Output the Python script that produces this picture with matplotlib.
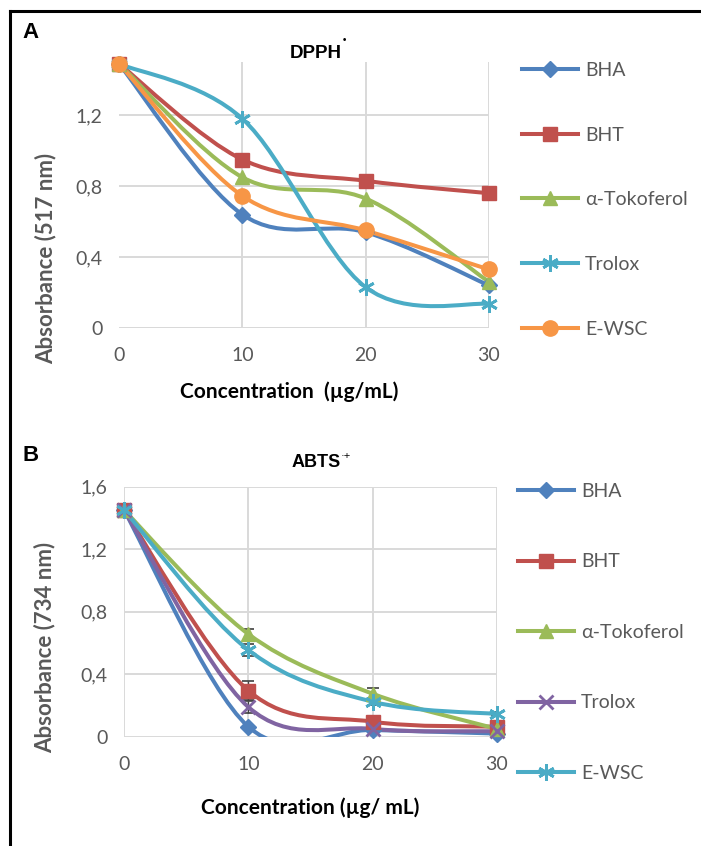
import matplotlib
matplotlib.use('Agg')
import matplotlib.pyplot as plt
import numpy as np
from matplotlib.path import Path
from matplotlib.patches import PathPatch
from matplotlib.lines import Line2D

plt.rcParams['font.family'] = ['Lato', 'DejaVu Sans']

#%% Data

conc = [0, 10, 20, 30]
x_ticks = [0, 10, 20, 30]

# A: DPPH
dpph_labels = ['BHA', 'BHT', 'α-Tokoferol', 'Trolox', 'E-WSC']
dpph_bha = [1.49, 0.64, 0.54, 0.24]
dpph_bht = [1.49, 0.95, 0.83, 0.76]
dpph_toc = [1.49, 0.85, 0.73, 0.26]
dpph_trolox = [1.49, 1.18, 0.23, 0.135]
dpph_ewsc = [1.49, 0.745, 0.55, 0.33]
dpph_yticks = [0, 0.4, 0.8, 1.2]
dpph_yticklabels = ['0', '0,4', '0,8', '1,2']

# B: ABTS
abts_labels = ['BHA', 'BHT', 'α-Tokoferol', 'Trolox', 'E-WSC']
abts_bha = [1.45, 0.064, 0.043, 0.02]
abts_bht = [1.45, 0.295, 0.096, 0.064]
abts_toc = [1.45, 0.657, 0.275, 0.05]
abts_trolox = [1.45, 0.19, 0.05, 0.035]
abts_ewsc = [1.45, 0.555, 0.224, 0.145]
abts_bht_err = [0, 0.063, 0.02, 0.01]
abts_toc_err = [0, 0.035, 0.035, 0.01]
abts_trolox_err = [0, 0.04, 0.01, 0.01]
abts_ewsc_err = [0, 0.037, 0.02, 0.01]
abts_yticks = [0, 0.4, 0.8, 1.2, 1.6]
abts_yticklabels = ['0', '0,4', '0,8', '1,2', '1,6']

#%% Styles

BLUE = '#4F81BD'
RED = '#C0504D'
GREEN = '#9BBB59'
PURPLE = '#8064A2'
AQUA = '#4BACC6'
ORANGE = '#F79646'
GRAY = '#595959'
GRID = '#D9D9D9'
STAR = (6, 2, 0)

marker_sizes = {'D': 8, 's': 10, '^': 10, STAR: 12, 'o': 11, 'x': 10}


def smooth_path(x, y):
    # Excel style smoothed line: cubic bezier, catmull-rom tangents
    pts = np.column_stack([x, y]).astype(float)
    ext = np.vstack([pts[0], pts, pts[-1]])
    verts = [pts[0]]
    codes = [Path.MOVETO]
    for i in range(1, len(ext) - 2):
        c1 = ext[i] + (ext[i + 1] - ext[i - 1]) / 6
        c2 = ext[i + 1] - (ext[i + 2] - ext[i]) / 6
        verts += [c1, c2, ext[i + 1]]
        codes += [Path.CURVE4] * 3
    return Path(verts, codes)


def draw_series(ax, x, y, color, marker, yerr=None):
    patch = PathPatch(smooth_path(x, y), facecolor='none', edgecolor=color,
                      lw=2.9, capstyle='round', joinstyle='round', zorder=3)
    ax.add_patch(patch)
    if yerr is not None:
        ax.errorbar(x, y, yerr=yerr, fmt='none', ecolor='#404040', elinewidth=1,
                    capsize=4, capthick=1.2, zorder=2)
    mew = 2 if marker in ('x', STAR) else 1
    ax.plot(x, y, linestyle='none', marker=marker, ms=marker_sizes[marker],
            color=color, mec=color, mew=mew, zorder=4, clip_on=False)
    return Line2D([], [], color=color, lw=2.9, marker=marker,
                  ms=marker_sizes[marker], mec=color, mew=mew)


def style_axes(ax, ymax, yticks, yticklabels):
    ax.set_xlim(0, 30)
    ax.set_ylim(0, ymax)
    ax.set_xticks(x_ticks)
    ax.set_xticklabels([str(t) for t in x_ticks])
    ax.set_yticks(yticks)
    ax.set_yticklabels(yticklabels)
    for s in ax.spines.values():
        s.set_visible(False)
    ax.grid(True, color=GRID, lw=1.4)
    ax.set_axisbelow(True)
    ax.tick_params(length=0, labelsize=14, colors=GRAY, pad=0)
    ax.tick_params(axis='x', pad=14)
    ax.tick_params(axis='y', pad=12)


fig = plt.figure(figsize=(7.01, 8.46), dpi=100)

# frame lines (top and left)
fig.add_artist(Line2D([10 / 701, 1], [1 - 11 / 846, 1 - 11 / 846], color='black', lw=2.2))
fig.add_artist(Line2D([10 / 701, 10 / 701], [0, 1 - 11 / 846], color='black', lw=2.2))

#%% Panel A

axA = fig.add_axes([119 / 701, 1 - 328 / 846, 370 / 701, 266 / 846])
style_axes(axA, 1.5, dpph_yticks, dpph_yticklabels)
axA.xaxis.get_gridlines()[0].set_visible(False)
axA.axhline(0, color=GRID, lw=1.4, zorder=1)

hA = [
    draw_series(axA, conc, dpph_bha, BLUE, 'D'),
    draw_series(axA, conc, dpph_bht, RED, 's'),
    draw_series(axA, conc, dpph_toc, GREEN, '^'),
    draw_series(axA, conc, dpph_trolox, AQUA, STAR),
    draw_series(axA, conc, dpph_ewsc, ORANGE, 'o'),
]
axA.set_ylabel('Absorbance (517 nm)', fontsize=16, fontweight='bold', color=GRAY)
axA.yaxis.set_label_coords(-0.17, 0.26)
axA.set_xlabel('Concentration  (µg/mL)', fontsize=15, fontweight='bold', color='black')
axA.xaxis.set_label_coords(0.459, -0.199)

fig.text(22 / 701, 1 - 32 / 846, 'A', fontsize=16, fontweight='bold', family='Liberation Sans',
         va='center', ha='left')
fig.text(342 / 701, 1 - 53 / 846, 'DPPH', fontsize=13.5, fontweight='bold', family='Liberation Sans',
         va='center', ha='right')
fig.text(343 / 701, 1 - 40 / 846, '•', fontsize=7, fontweight='bold', family='Liberation Sans',
         va='center', ha='left')

fig.legend(hA, dpph_labels, loc='upper left', bbox_to_anchor=(522 / 701, 1 - 62 / 846),
           frameon=False, fontsize=14, labelcolor=GRAY, borderpad=0, borderaxespad=0,
           handlelength=2.9, handletextpad=0.35, labelspacing=2.45)

#%% Panel B

axB = fig.add_axes([124 / 701, 1 - 736.7 / 846, 373 / 701, 250 / 846])
style_axes(axB, 1.6, abts_yticks, abts_yticklabels)

hB = [
    draw_series(axB, conc, abts_bha, BLUE, 'D'),
    draw_series(axB, conc, abts_bht, RED, 's', abts_bht_err),
    draw_series(axB, conc, abts_toc, GREEN, '^', abts_toc_err),
    draw_series(axB, conc, abts_trolox, PURPLE, 'x', abts_trolox_err),
    draw_series(axB, conc, abts_ewsc, AQUA, STAR, abts_ewsc_err),
]
axB.set_ylabel('Absorbance (734 nm)', fontsize=16, fontweight='bold', color=GRAY)
axB.yaxis.set_label_coords(-0.185, 0.357)
axB.set_xlabel('Concentration (µg/ mL)', fontsize=15, fontweight='bold', color='black')
axB.xaxis.set_label_coords(0.5, -0.241)

fig.text(22 / 701, 1 - 455 / 846, 'B', fontsize=16, fontweight='bold', family='Liberation Sans',
         va='center', ha='left')
fig.text(341 / 701, 1 - 462 / 846, 'ABTS', fontsize=13, fontweight='bold', family='Liberation Sans',
         va='center', ha='right')
fig.text(341 / 701, 1 - 456 / 846, '·+', fontsize=8, family='Liberation Sans',
         va='center', ha='left')

fig.legend(hB, abts_labels, loc='upper left', bbox_to_anchor=(518 / 701, 1 - 483 / 846),
           frameon=False, fontsize=14, labelcolor=GRAY, borderpad=0, borderaxespad=0,
           handlelength=2.9, handletextpad=0.35, labelspacing=2.75)

fig.savefig('out.png', dpi=100)
